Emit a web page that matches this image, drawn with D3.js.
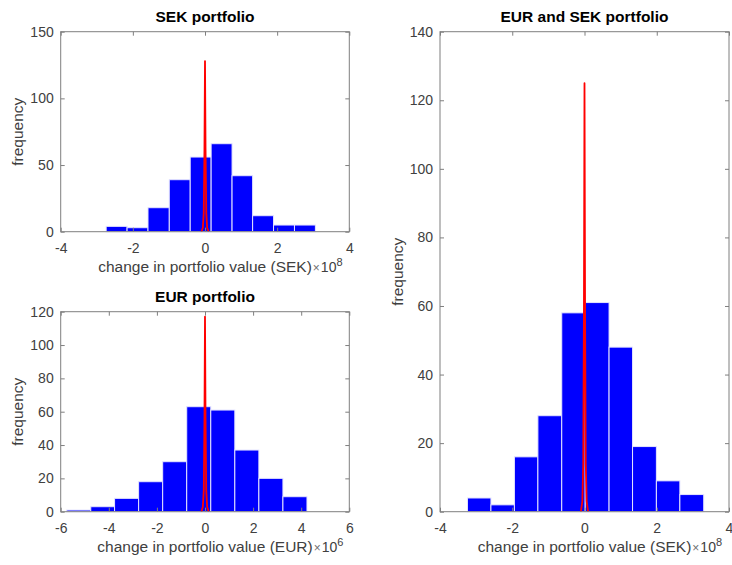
<!DOCTYPE html>
<html>
<head>
<meta charset="utf-8">
<script src="https://cdn.jsdelivr.net/npm/d3@7"></script>
<style>
  html, body { margin: 0; padding: 0; background: #fff; }
  svg { display: block; }
</style>
</head>
<body>
<svg id="chart" width="732" height="565"></svg>
<script>
// ---- histogram data (x in scaled units, see exponent) ----
const sekEdges  = [-2.74, -2.16, -1.58, -0.99, -0.41, 0.17, 0.75, 1.32, 1.90, 2.48, 3.06];
const sekCounts = [4, 3, 18, 39, 56, 66, 42, 12, 5, 5];

const eurEdges  = [-5.75, -4.75, -3.76, -2.76, -1.76, -0.76, 0.24, 1.24, 2.24, 3.24, 4.24];
const eurCounts = [1, 3, 8, 18, 30, 63, 61, 37, 20, 9];

const bothEdges  = [-3.24, -2.59, -1.94, -1.29, -0.63, 0.02, 0.68, 1.33, 1.99, 2.64, 3.30];
const bothCounts = [4, 2, 16, 28, 58, 61, 48, 19, 9, 5];

// ---- red density spike drawn over each histogram ----
const sekCurveX  = [-0.1, -0.06, -0.035, -0.015, 0, 0.015, 0.035, 0.06, 0.1];
const sekCurveY  = [0, 3, 14, 62, 128, 62, 14, 3, 0];
const eurCurveX  = [-0.15, -0.09, -0.05, -0.022, 0, 0.022, 0.05, 0.09, 0.15];
const eurCurveY  = [0, 3, 13, 57, 117, 57, 13, 3, 0];
const bothCurveX = [-0.1, -0.06, -0.035, -0.015, 0, 0.015, 0.035, 0.06, 0.1];
const bothCurveY = [0, 3, 14, 60, 125, 60, 14, 3, 0];

// ---- tick labels ----
const sekXTicks  = [-4, -2, 0, 2, 4];
const sekYTicks  = [0, 50, 100, 150];
const eurXTicks  = [-6, -4, -2, 0, 2, 4, 6];
const eurYTicks  = [0, 20, 40, 60, 80, 100, 120];
const bothXTicks = [-4, -2, 0, 2, 4];
const bothYTicks = [0, 20, 40, 60, 80, 100, 120, 140];

const FONT = '"Liberation Sans", Arial, Helvetica, sans-serif';
const AXIS_COLOR = '#7f7f7f';
const TEXT_COLOR = '#404040';
const LABEL_SIZE = '15.5px';

const svg = d3.select('#chart');

const panels = [
  { title: 'SEK portfolio', xLabel: 'change in portfolio value (SEK)', exponent: '8',
    left: 60.7, right: 349.3, top: 31.7, bottom: 231.7,
    xDomain: [-4, 4], yDomain: [0, 150], xTicks: sekXTicks, yTicks: sekYTicks,
    edges: sekEdges, counts: sekCounts, curveX: sekCurveX, curveY: sekCurveY, ylx: 23 },
  { title: 'EUR portfolio', xLabel: 'change in portfolio value (EUR)', exponent: '6',
    left: 60.7, right: 349.3, top: 311.7, bottom: 511.7,
    xDomain: [-6, 6], yDomain: [0, 120], xTicks: eurXTicks, yTicks: eurYTicks,
    edges: eurEdges, counts: eurCounts, curveX: eurCurveX, curveY: eurCurveY, ylx: 23 },
  { title: 'EUR and SEK portfolio', xLabel: 'change in portfolio value (SEK)', exponent: '8',
    left: 440, right: 729, top: 31.7, bottom: 511.7,
    xDomain: [-4, 4], yDomain: [0, 140], xTicks: bothXTicks, yTicks: bothYTicks,
    edges: bothEdges, counts: bothCounts, curveX: bothCurveX, curveY: bothCurveY, ylx: 403 }
];

panels.forEach(p => {
  const x = d3.scaleLinear().domain(p.xDomain).range([p.left, p.right]);
  const y = d3.scaleLinear().domain(p.yDomain).range([p.bottom, p.top]);
  const g = svg.append('g');

  // bars
  const bins = p.counts.map((c, i) => ({ x0: p.edges[i], x1: p.edges[i + 1], n: c }));
  g.append('g').selectAll('rect').data(bins).join('rect')
    .attr('x', d => x(d.x0))
    .attr('width', d => x(d.x1) - x(d.x0))
    .attr('y', d => y(d.n))
    .attr('height', d => y(0) - y(d.n))
    .attr('fill', '#0000ff')
    .attr('stroke', '#e4e4ff')
    .attr('stroke-width', 1);

  // density spike
  const pts = p.curveX.map((v, i) => [v, p.curveY[i]]);
  g.append('path')
    .datum(pts)
    .attr('d', d3.line().x(d => x(d[0])).y(d => y(d[1])))
    .attr('fill', 'none')
    .attr('stroke', '#ff0000')
    .attr('stroke-width', 1.8)
    .attr('stroke-linejoin', 'round');

  // axes with inward ticks on all sides
  const fmt = d => String(d);
  const styleAxis = sel => {
    sel.select('.domain').remove();
    sel.selectAll('line').attr('stroke', AXIS_COLOR);
    sel.selectAll('text').attr('fill', TEXT_COLOR)
      .style('font-family', FONT).style('font-size', '14px');
  };
  g.append('g').attr('transform', `translate(0,${p.bottom})`)
    .call(d3.axisBottom(x).tickValues(p.xTicks).tickFormat(fmt)
      .tickSizeInner(-4).tickSizeOuter(0).tickPadding(11))
    .call(styleAxis);
  g.append('g').attr('transform', `translate(0,${p.top})`)
    .call(d3.axisTop(x).tickValues(p.xTicks).tickFormat('')
      .tickSizeInner(-4).tickSizeOuter(0))
    .call(styleAxis);
  g.append('g').attr('transform', `translate(${p.left},0)`)
    .call(d3.axisLeft(y).tickValues(p.yTicks).tickFormat(fmt)
      .tickSizeInner(-4).tickSizeOuter(0).tickPadding(7))
    .call(styleAxis);
  g.append('g').attr('transform', `translate(${p.right},0)`)
    .call(d3.axisRight(y).tickValues(p.yTicks).tickFormat('')
      .tickSizeInner(-4).tickSizeOuter(0))
    .call(styleAxis);

  // box
  g.append('rect')
    .attr('x', p.left).attr('y', p.top)
    .attr('width', p.right - p.left).attr('height', p.bottom - p.top)
    .attr('fill', 'none').attr('stroke', AXIS_COLOR).attr('stroke-width', 1);

  // title
  g.append('text')
    .attr('x', (p.left + p.right) / 2).attr('y', p.top - 10)
    .attr('text-anchor', 'middle')
    .style('font-family', FONT).style('font-size', LABEL_SIZE).style('font-weight', 'bold')
    .attr('fill', '#000')
    .text(p.title);

  // x label + exponent
  const xl = g.append('text')
    .attr('x', (p.left + p.right) / 2).attr('y', p.bottom + 40)
    .attr('text-anchor', 'middle')
    .style('font-family', FONT).style('font-size', LABEL_SIZE)
    .attr('fill', TEXT_COLOR)
    .text(p.xLabel);
  const xlEnd = (p.left + p.right) / 2 + xl.node().getComputedTextLength() / 2;
  const ex = g.append('text')
    .attr('x', xlEnd + 1).attr('y', p.bottom + 40)
    .style('font-family', FONT).attr('fill', TEXT_COLOR);
  ex.append('tspan').style('font-size', '12px').attr('fill', '#707070').text('\u00d7');
  ex.append('tspan').style('font-size', '14px').attr('dx', 1).text('10');
  ex.append('tspan').style('font-size', '11px').attr('dy', -6).text(p.exponent);

  // y label
  g.append('text')
    .attr('transform', `translate(${p.ylx},${(p.top + p.bottom) / 2}) rotate(-90)`)
    .attr('text-anchor', 'middle')
    .style('font-family', FONT).style('font-size', LABEL_SIZE)
    .attr('fill', TEXT_COLOR)
    .text('frequency');
});
</script>
</body>
</html>
